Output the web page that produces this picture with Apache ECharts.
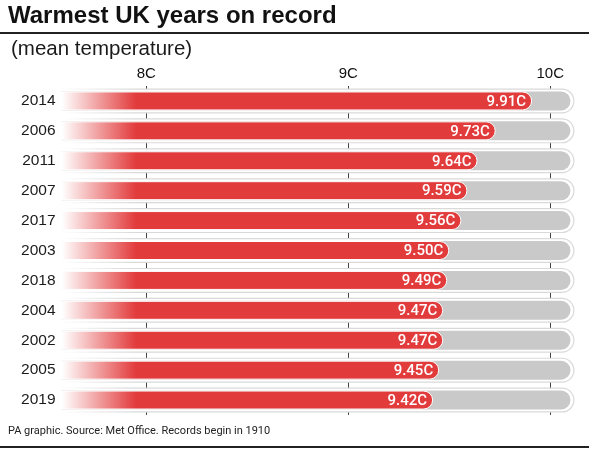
<!DOCTYPE html>
<html lang="en">
<head>
    <meta charset="UTF-8">
    <title>Warmest UK years on record</title>
    <script src="https://cdn.jsdelivr.net/npm/echarts@6/dist/echarts.min.js"></script>
    <style>
        html, body { margin: 0; padding: 0; background: #fff; }
        #chart { width: 589px; height: 450px; }
    </style>
</head>
<body>
<div id="chart"></div>
<script type="text/javascript">
    // data
    var years = ['2014', '2006', '2011', '2007', '2017', '2003', '2018', '2004', '2002', '2005', '2019'];
    var temps = [9.91, 9.73, 9.64, 9.59, 9.56, 9.50, 9.49, 9.47, 9.47, 9.45, 9.42];
    var tickValues = [8, 9, 10];
    var axisMin = 7.58, axisMax = 10.12, trackEnd = 10.1;

    var red = '#e23b3c';
    var font = '"Liberation Sans", Arial, sans-serif';
    var narrow = 'Roboto, "Noto Sans", sans-serif';

    var chart = echarts.init(document.getElementById('chart'));

    // fade on the left of the bars, in pixels
    var fade = new echarts.graphic.LinearGradient(62, 0, 136, 0, [
        {offset: 0, color: '#ffffff'},
        {offset: 1, color: red}
    ], true);
    var fadeBorder = new echarts.graphic.LinearGradient(62, 0, 136, 0, [
        {offset: 0, color: 'rgba(215,215,215,0)'},
        {offset: 1, color: '#d9d9d9'}
    ], true);

    var option = {
        animation: false,
        textStyle: {fontFamily: font},
        grid: {left: 61.5, right: 14.5, top: 86, bottom: 35, containLabel: false},
        xAxis: {
            type: 'value',
            position: 'top',
            min: axisMin,
            max: axisMax,
            axisLine: {show: false},
            axisTick: {show: false, customValues: tickValues},
            axisLabel: {
                customValues: tickValues,
                formatter: '{value}C',
                fontSize: 15,
                color: '#111',
                margin: 5
            },
            splitLine: {show: true, lineStyle: {color: '#444', width: 1}}
        },
        yAxis: [
            {
                type: 'category',
                data: years,
                inverse: true,
                axisLine: {show: false},
                axisTick: {show: false},
                axisLabel: {fontSize: 15.5, color: '#1a1a1a', margin: 6}
            },
            {
                type: 'category',
                data: years,
                inverse: true,
                show: false
            }
        ],
        series: [
            {
                // outline round the track
                type: 'bar',
                yAxisIndex: 1,
                barWidth: 25,
                silent: true,
                data: years.map(function () { return axisMax; }),
                itemStyle: {
                    color: '#ffffff',
                    borderColor: fadeBorder,
                    borderWidth: 1.2,
                    borderRadius: [0, 12.5, 12.5, 0]
                }
            },
            {
                // grey track
                type: 'bar',
                yAxisIndex: 0,
                barWidth: 19,
                barGap: '-100%',
                silent: true,
                data: years.map(function () { return trackEnd; }),
                itemStyle: {color: '#c9c9c9', borderRadius: [0, 9.5, 9.5, 0]}
            },
            {
                type: 'bar',
                yAxisIndex: 0,
                barWidth: 19,
                barGap: '-100%',
                data: temps,
                itemStyle: {
                    color: fade,
                    borderColor: '#ffffff',
                    borderWidth: 1,
                    borderRadius: [0, 9.5, 9.5, 0]
                },
                label: {
                    show: true,
                    position: 'insideRight',
                    offset: [-1, 1],
                    formatter: function (p) { return p.value.toFixed(2) + 'C'; },
                    color: '#fff',
                    fontFamily: narrow,
                    fontSize: 15,
                    fontWeight: 500
                }
            }
        ],
        graphic: [
            {
                type: 'text', left: 8, top: 4,
                style: {text: 'Warmest UK years on record', fontSize: 24, fontWeight: 'bold', fill: '#111', fontFamily: font}
            },
            {
                type: 'rect', left: 0, top: 32,
                shape: {width: 589, height: 2}, style: {fill: '#222'}
            },
            {
                type: 'text', left: 11, top: 39,
                style: {text: '(mean temperature)', fontSize: 20.5, fill: '#1a1a1a', fontFamily: font}
            },
            {
                type: 'text', left: 8, top: 426,
                style: {text: 'PA graphic. Source: Met Office. Records begin in 1910', fontSize: 11, fill: '#222', fontFamily: narrow}
            },
            {
                type: 'rect', left: 0, top: 446,
                shape: {width: 589, height: 2}, style: {fill: '#222'}
            }
        ]
    };

    chart.setOption(option);
    window.onresize = function () {
        chart.resize();
    };
</script>
</body>
</html>
